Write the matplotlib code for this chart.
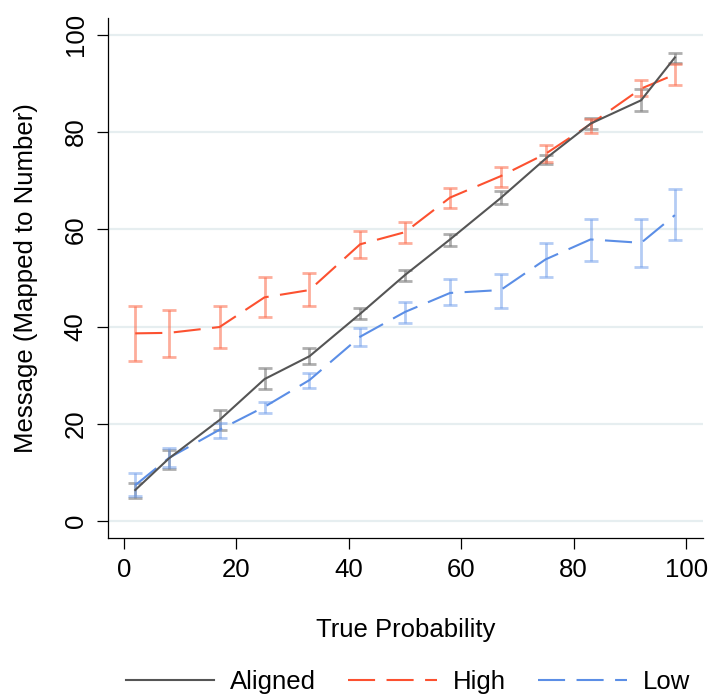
import matplotlib
matplotlib.use("Agg")
from matplotlib import pyplot as plt

# true probability (x) for every point
prob = [2, 8, 17, 25, 33, 42, 50, 58, 67, 75, 83, 92, 98]

# mean message with lower / upper ends of the error bar
aligned = [6.4, 12.9, 20.8, 29.2, 33.9, 42.6, 50.6, 57.9, 66.4, 74.5, 81.7, 86.5, 95.3]
aligned_lo = [4.7, 10.8, 18.8, 27.1, 32.4, 41.5, 49.4, 56.6, 65.1, 73.5, 80.5, 84.2, 94.2]
aligned_hi = [7.9, 14.6, 22.9, 31.4, 35.6, 43.9, 51.7, 59.0, 67.8, 75.2, 82.9, 88.8, 96.3]

high = [38.6, 38.7, 39.9, 46.0, 47.5, 56.9, 59.4, 66.5, 70.9, 75.5, 81.6, 88.9, 91.8]
high_lo = [32.9, 33.8, 35.6, 41.9, 44.2, 54.1, 57.1, 64.4, 68.7, 73.8, 79.8, 87.3, 89.7]
high_hi = [44.2, 43.5, 44.3, 50.1, 50.9, 59.6, 61.4, 68.5, 72.7, 77.4, 82.7, 90.6, 94.0]

low = [7.4, 13.0, 18.8, 23.5, 29.0, 37.9, 43.0, 46.9, 47.5, 53.8, 57.9, 57.2, 62.9]
low_lo = [5.1, 11.2, 17.1, 22.3, 27.3, 36.0, 40.8, 44.5, 43.9, 50.1, 53.5, 52.3, 57.7]
low_hi = [9.8, 15.1, 20.2, 24.5, 30.5, 39.8, 45.1, 49.7, 50.7, 57.2, 62.2, 62.0, 68.2]

xticks = [0, 20, 40, 60, 80, 100]
yticks = [0, 20, 40, 60, 80, 100]

plt.rcParams['font.family'] = ['Liberation Sans', 'DejaVu Sans']
plt.rcParams['font.size'] = 18.5

fig = plt.figure(figsize=(7.09, 6.94), dpi=100)
ax = fig.add_axes([0.1523, 0.2252, 0.8392, 0.7488])

dash = (0, (13, 5.5))
series = [
    ("Aligned", aligned, aligned_lo, aligned_hi, '#555555', '#7a7a7a', 0.6, '-'),
    ("High", high, high_lo, high_hi, '#fc5130', '#fc6a4a', 0.55, dash),
    ("Low", low, low_lo, low_hi, '#5b8ee6', '#6b9aea', 0.5, dash),
]

for name, m, lo, hi, col, ecol, a, ls in series:
    err = [[v - l for v, l in zip(m, lo)], [h - v for v, h in zip(m, hi)]]
    ax.errorbar(prob, m, yerr=err, fmt='none', ecolor=ecol, alpha=a,
                elinewidth=2, capsize=5, capthick=2, zorder=2)

for name, m, lo, hi, col, ecol, a, ls in [series[1], series[2], series[0]]:
    ax.plot(prob, m, color=col, linewidth=1.5, linestyle=ls, label=name, zorder=3)

ax.set_xlim(-2.85, 103)
ax.set_ylim(-3.4, 103.4)
ax.set_xticks(xticks)
ax.set_yticks(yticks)
ax.grid(axis='y', color='#e6eef0', linewidth=1.6, zorder=0)
ax.set_axisbelow(True)

for s in ['top', 'right']:
    ax.spines[s].set_visible(False)
for s in ['left', 'bottom']:
    ax.spines[s].set_linewidth(0.9)

ax.tick_params(direction='out', length=7.7, width=0.9, pad=7)
for lab in ax.get_yticklabels():
    lab.set_rotation(90)
    lab.set_va('center')

ax.set_xlabel("True Probability", labelpad=26)
ax.set_ylabel("Message (Mapped to Number)")
ax.yaxis.set_label_coords(-0.118, 0.5)

handles, labels = ax.get_legend_handles_labels()
order = [labels.index("Aligned"), labels.index("High"), labels.index("Low")]
ax.legend([handles[i] for i in order], [labels[i] for i in order],
          loc='center', bbox_to_anchor=(0.504, -0.2777), ncol=3, frameon=False,
          handlelength=3.46, handletextpad=0.62, columnspacing=1.24)

plt.savefig('out.png', dpi=100)
